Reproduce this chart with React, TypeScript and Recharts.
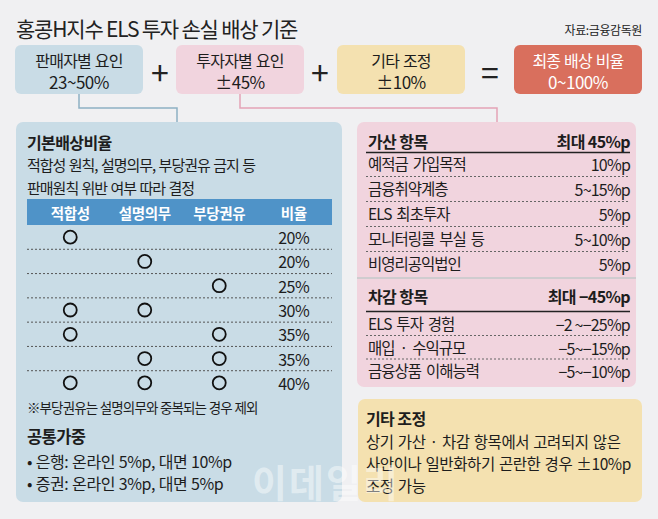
import React from 'react';
import { ScatterChart, Scatter, XAxis, YAxis, ReferenceLine } from 'recharts';

// ---------- data ----------
const titleText = '홍콩H지수 ELS 투자 손실 배상 기준';
const sourceText = '자료:금융감독원';
const factorNames = ['판매자별 요인', '투자자별 요인', '기타 조정', '최종 배상 비율'];
const factorRanges = ['23~50%', '±45%', '±10%', '0~100%'];
const operators = ['+', '+', '='];

const baseTitle = '기본배상비율';
const baseDesc = ['적합성 원칙, 설명의무, 부당권유 금지 등', '판매원칙 위반 여부 따라 결정'];
const criteria = ['적합성', '설명의무', '부당권유'];
const ratioLabel = '비율';
const violationMatrix = [
  [1, 0, 0],
  [0, 1, 0],
  [0, 0, 1],
  [1, 1, 0],
  [1, 0, 1],
  [0, 1, 1],
  [1, 1, 1],
];
const baseRatios = [20, 20, 25, 30, 35, 35, 40];
const baseNote = '※부당권유는 설명의무와 중복되는 경우 제외';
const commonTitle = '공통가중';
const commonItems = ['• 은행: 온라인 5%p, 대면 10%p', '• 증권: 온라인 3%p, 대면 5%p'];

const addTitle = '가산 항목';
const addMax = '최대 45%p';
const addItems = ['예적금 가입목적', '금융취약계층', 'ELS 최초투자', '모니터링콜 부실 등', '비영리공익법인'];
const addValues = ['10%p', '5~15%p', '5%p', '5~10%p', '5%p'];

const subTitle = '차감 항목';
const subMax = '최대 −45%p';
const subItems = ['ELS 투자 경험', '매입 · 수익규모', '금융상품 이해능력'];
const subValues = ['−2 ~−25%p', '−5~−15%p', '−5~−10%p'];

const etcTitle = '기타 조정';
const etcLines = ['상기 가산 · 차감 항목에서 고려되지 않은', '사안이나 일반화하기 곤란한 경우 ±10%p', '조정 가능'];
const watermark = '이데일리';

// derived chart data
const circlePoints = violationMatrix.flatMap((row, r) =>
  row.map((v, c) => (v ? { col: c, row: r } : null)).filter(Boolean)
) as { col: number; row: number }[];
const ratioPoints = baseRatios.map((ratio, r) => ({ col: criteria.length, row: r, ratio }));
const headerLabels = [...criteria, ratioLabel];

// ---------- style ----------
const FONT = '"Noto Sans CJK KR", "Noto Sans", sans-serif';
const BG = '#f0f0f2';
const BLUE = '#c9dce6';
const BLUE_LINE = '#8db0c4';
const PINK = '#f1d4de';
const PINK_LINE = '#e3a3b6';
const YELLOW = '#f4e1b0';
const RED = '#d96f5d';
const HEAD_BLUE = '#4f93c8';
const INK = '#1d1d1d';

const boxLefts = [15, 176, 337, 514];
const boxColors = [BLUE, PINK, YELLOW, RED];
const opX = [160, 320, 490];

type TP = {
  x: number; y: number; size?: number; bold?: boolean; anchor?: 'start' | 'middle' | 'end';
  ls?: number; ws?: number; color?: string; children: React.ReactNode;
};
const T = ({ x, y, size = 15, bold = false, anchor = 'start', ls = 0, ws = 0, color = INK, children }: TP) => (
  <div
    style={{
      position: 'absolute', left: x, top: y,
      transform: `translate(${anchor === 'middle' ? '-50%' : anchor === 'end' ? '-100%' : '0'}, -50%)`,
      fontSize: size, fontWeight: bold ? 700 : 400, letterSpacing: ls, wordSpacing: ws, color,
      whiteSpace: 'nowrap', lineHeight: 1, fontFamily: FONT,
    }}
  >
    {children}
  </div>
);

const Panel = ({ x, y, w, h, color, r = 7 }: any) => (
  <div style={{ position: 'absolute', left: x, top: y, width: w, height: h, background: color, borderRadius: r }} />
);

const HeaderTick = (props: any) => {
  const { x, payload } = props;
  return (
    <text x={x} y={13} textAnchor="middle" dominantBaseline="central" fill="#fff"
      fontSize={14.5} fontWeight={700} fontFamily={FONT} letterSpacing={-0.3}>
      {headerLabels[payload.value]}
    </text>
  );
};

const TableChart = () => (
  <ScatterChart width={305} height={196} margin={{ top: 0, right: 0, bottom: 0, left: 0 }}>
    <XAxis type="number" dataKey="col" orientation="top" height={26} domain={[-0.5, 3.5]}
      ticks={[0, 1, 2, 3]} tick={<HeaderTick />} tickLine={false} axisLine={false}
      padding={{ left: 6, right: 1 }} interval={0} />
    <YAxis type="number" dataKey="row" domain={[-0.5, 6.5]} reversed hide />
    {baseRatios.slice(1).map((_, i) => (
      <ReferenceLine key={i} y={i + 0.5} stroke="#555" strokeWidth={1} strokeDasharray="2 2" />
    ))}
    <Scatter data={circlePoints} isAnimationActive={false}
      shape={(p: any) => <circle cx={p.cx} cy={p.cy} r={6.5} fill="none" stroke="#111" strokeWidth={1.8} />} />
    <Scatter data={ratioPoints} isAnimationActive={false}
      shape={(p: any) => (
        <text x={p.cx} y={p.cy} textAnchor="middle" dominantBaseline="central" fontSize={16}
          fontFamily={FONT} fill={INK} letterSpacing={-0.5}>
          {p.payload.ratio}%
        </text>
      )} />
  </ScatterChart>
);

export default function App() {
  return (
    <div style={{ position: 'absolute', left: 0, top: 0, width: 658, height: 519, background: BG, overflow: 'hidden', fontFamily: FONT }}>
      {/* title */}
      <T x={16} y={28} size={21} ls={-1.2} color="#222">{titleText}</T>
      <T x={642} y={30} size={12} anchor="end" ls={-0.4} color="#222">{sourceText}</T>

      {/* top factor boxes */}
      {factorNames.map((n, i) => (
        <React.Fragment key={n}>
          <Panel x={boxLefts[i]} y={45} w={128} h={49} color={boxColors[i]} r={6} />
          <div style={{
            position: 'absolute', left: boxLefts[i], top: 50, width: 128, textAlign: 'center',
            lineHeight: '21px', fontFamily: FONT, color: i === 3 ? '#fff' : INK, whiteSpace: 'nowrap',
          }}>
            <span style={{ fontSize: 16, letterSpacing: -0.8, wordSpacing: 1 }}>{n}</span>
            <br />
            <span style={{ fontSize: 17, letterSpacing: -0.5 }}>{factorRanges[i]}</span>
          </div>
        </React.Fragment>
      ))}
      {operators.map((o, i) => (
        <T key={i} x={opX[i]} y={71} size={32} anchor="middle" color="#222">{o}</T>
      ))}

      {/* panels */}
      <Panel x={16} y={122} w={326} h={380} color={BLUE} />
      <Panel x={357} y={122} w={279} h={265} color={PINK} />
      <Panel x={358} y={399} w={284} h={103} color={YELLOW} />
      <div style={{ position: 'absolute', left: 27, top: 199, width: 305, height: 26, background: HEAD_BLUE }} />

      {/* lines */}
      <svg width={658} height={519} style={{ position: 'absolute', left: 0, top: 0 }}>
        <polyline points="79,94 79,108 177,108 177,122" fill="none" stroke={BLUE_LINE} strokeWidth={1.5} />
        <polyline points="240,94 240,108 497,108 497,122" fill="none" stroke={PINK_LINE} strokeWidth={1.5} />
        <line x1={366} x2={630} y1={152.5} y2={152.5} stroke="#222" strokeWidth={1.5} />
        {addItems.slice(1).map((_, i) => (
          <line key={i} x1={366} x2={630} y1={176.5 + i * 25} y2={176.5 + i * 25} stroke="#666" strokeDasharray="2 2" />
        ))}
        <line x1={357} x2={636} y1={278} y2={278} stroke="#cfcccf" strokeWidth={2} />
        <line x1={366} x2={630} y1={311.5} y2={311.5} stroke="#222" strokeWidth={1.5} />
        {subItems.slice(1).map((_, i) => (
          <line key={i} x1={366} x2={630} y1={335.5 + i * 23.5} y2={335.5 + i * 23.5} stroke="#666" strokeDasharray="2 2" />
        ))}
      </svg>

      {/* blue panel text */}
      <T x={27} y={142} size={16} bold ls={-0.6}>{baseTitle}</T>
      {baseDesc.map((d, i) => (
        <T key={i} x={27} y={164 + i * 23} size={15} ls={-1.0} ws={1}>{d}</T>
      ))}
      <div style={{ position: 'absolute', left: 27, top: 199 }}>
        <TableChart />
      </div>
      <T x={27} y={408} size={13.5} ls={-0.9} ws={0.5}>{baseNote}</T>
      <T x={27} y={436} size={16.5} bold ls={-0.6}>{commonTitle}</T>
      {commonItems.map((c, i) => (
        <T key={i} x={27} y={461 + i * 22} size={16} ls={-0.4} ws={0.5}>{c}</T>
      ))}

      {/* pink panel text */}
      <T x={368} y={141} size={16} bold ls={-0.6}>{addTitle}</T>
      <T x={630} y={141} size={16} bold ls={-0.6} anchor="end">{addMax}</T>
      {addItems.map((it, i) => (
        <React.Fragment key={it}>
          <T x={368} y={164 + i * 25} size={15.5} ls={-1.0} ws={2.5}>{it}</T>
          <T x={630} y={164 + i * 25} size={16} ls={-0.8} anchor="end">{addValues[i]}</T>
        </React.Fragment>
      ))}
      <T x={368} y={296} size={16} bold ls={-0.6}>{subTitle}</T>
      <T x={630} y={296} size={16} bold ls={-0.6} anchor="end">{subMax}</T>
      {subItems.map((it, i) => (
        <React.Fragment key={it}>
          <T x={368} y={324 + i * 23.5} size={15.5} ls={-1.0} ws={2.5}>{it}</T>
          <T x={630} y={324 + i * 23.5} size={16} ls={-0.8} anchor="end">{subValues[i]}</T>
        </React.Fragment>
      ))}

      {/* yellow panel text */}
      <T x={366} y={418} size={16} bold ls={-0.6}>{etcTitle}</T>
      {etcLines.map((l, i) => (
        <T key={i} x={366} y={442 + i * 22} size={15.5} ls={-0.4} ws={1}>{l}</T>
      ))}

      {/* watermark */}
      <T x={252} y={481} size={38} bold ls={2} color="rgba(255,255,255,0.45)">{watermark}</T>
    </div>
  );
}
